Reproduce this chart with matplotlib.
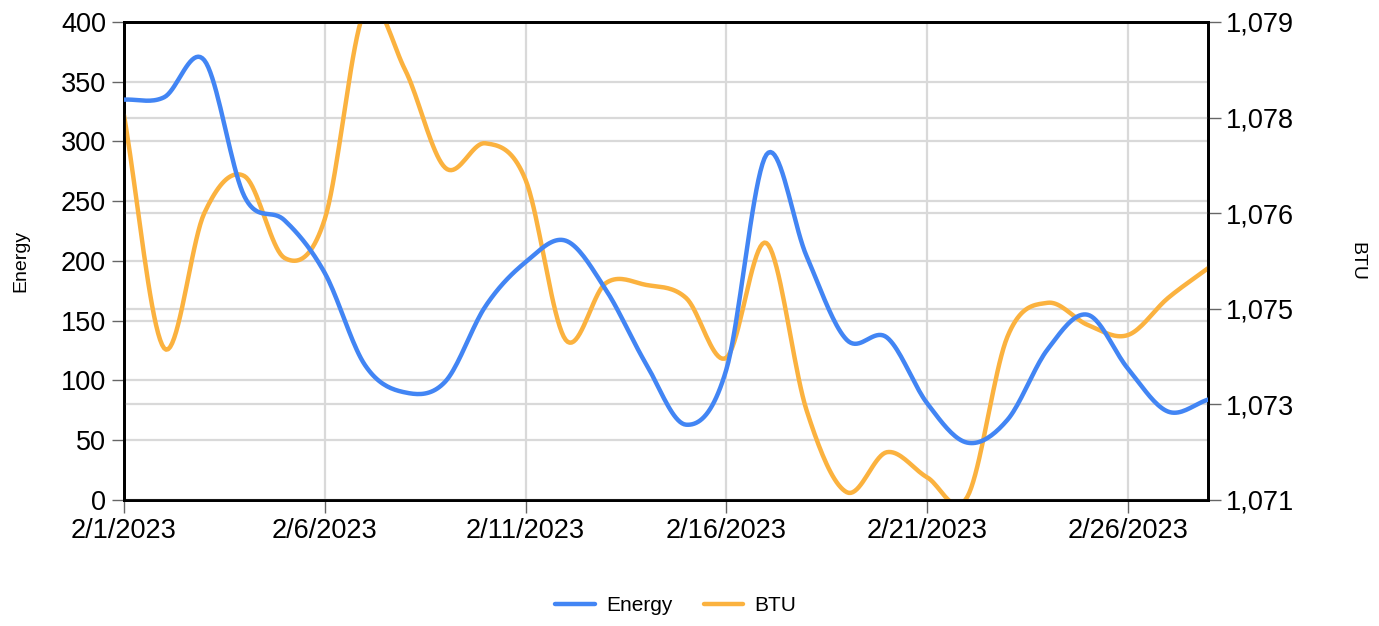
import numpy as np
import pandas as pd
import matplotlib
matplotlib.use("Agg")
import matplotlib.pyplot as plt
import matplotlib.dates as mdates
from matplotlib.ticker import FuncFormatter

plt.rcParams["font.family"] = ["Liberation Sans", "DejaVu Sans"]

# daily readings, February 2023
dates = pd.date_range("2023-02-01", "2023-02-28", freq="D")
energy = [335, 337, 368, 254, 234, 190, 113, 90, 99, 162,
          199, 217, 176, 114, 63, 109, 289, 204, 134, 136,
          81, 48, 67, 126, 155, 110, 74, 84]
btu = [1077.84, 1073.94, 1076.2, 1076.82, 1075.45, 1076.1, 1079.6, 1078.6,
       1076.96, 1077.37, 1076.76, 1074.08, 1075.03, 1075.0, 1074.78, 1073.78,
       1075.7, 1072.9, 1071.53, 1072.2, 1071.78, 1071.45, 1074.13, 1074.7,
       1074.33, 1074.16, 1074.78, 1075.28]

BLUE = "#4285f4"
ORANGE = "#fbb23f"
GRID = "#d9d9d9"


def smooth(x, y, n=20):
    # catmull-rom curve through the points (like the "function" curve type)
    x = np.asarray(x, float)
    y = np.asarray(y, float)
    m = np.zeros_like(y)
    m[1:-1] = (y[2:] - y[:-2]) / (x[2:] - x[:-2])
    m[0] = (y[1] - y[0]) / (x[1] - x[0])
    m[-1] = (y[-1] - y[-2]) / (x[-1] - x[-2])
    xs, ys = [], []
    for i in range(len(x) - 1):
        h = x[i + 1] - x[i]
        t = np.linspace(0, 1, n, endpoint=False)
        h00 = 2 * t**3 - 3 * t**2 + 1
        h10 = t**3 - 2 * t**2 + t
        h01 = -2 * t**3 + 3 * t**2
        h11 = t**3 - t**2
        xs.append(x[i] + t * h)
        ys.append(h00 * y[i] + h10 * h * m[i] + h01 * y[i + 1] + h11 * h * m[i + 1])
    xs.append([x[-1]])
    ys.append([y[-1]])
    return np.concatenate(xs), np.concatenate(ys)


xnum = mdates.date2num(dates)

fig = plt.figure(figsize=(13.79, 6.26), dpi=100)
ax = fig.add_axes([0.0899, 0.2013, 0.7862, 0.7636])
ax2 = ax.twinx()

ax.set_xlim(xnum[0], xnum[-1])
ax.set_ylim(0, 400)
ax2.set_ylim(1071.4, 1079.4)

# gridlines for both value axes plus every 5th day
ax.set_yticks(np.arange(0, 401, 50))
right_ticks = np.linspace(1071.4, 1079.4, 6)
ax2.set_yticks(right_ticks)
for v in np.arange(0, 401, 50):
    ax.axhline(v, color=GRID, lw=1.6, zorder=0)
for v in right_ticks:
    ax2.axhline(v, color=GRID, lw=1.6, zorder=0)
tick_dates = dates[::5]
ax.set_xticks(mdates.date2num(tick_dates))
ax.set_xticklabels([f"{d.month}/{d.day}/{d.year}" for d in tick_dates])
for xv in mdates.date2num(tick_dates)[1:]:
    ax.axvline(xv, color=GRID, lw=1.6, zorder=0)

ex, ey = smooth(xnum, energy)
l1, = ax2.plot(ex, ey, color=BLUE, lw=3.2, zorder=3,
               transform=ax.transData, solid_capstyle="round", label="Energy")
bx, by = smooth(xnum, btu)
l2, = ax2.plot(bx, by, color=ORANGE, lw=3.2, zorder=2,
               solid_capstyle="round", label="BTU")

ax2.yaxis.set_major_formatter(FuncFormatter(lambda v, p: f"{v:,.0f}"))

for a in (ax, ax2):
    for s in a.spines.values():
        s.set_color("black")
        s.set_linewidth(2)
    a.tick_params(axis="both", labelsize=19.5, color="#666666", length=9, width=1,
                  pad=4)

ax.set_ylabel("Energy", fontsize=14)
ax.yaxis.set_label_coords(-0.0876, 0.5)
ax2.set_ylabel("BTU", fontsize=14, rotation=-90, va="center")
ax2.yaxis.set_label_coords(1.137, 0.5)

fig.legend(handles=[l1, l2], loc="center", bbox_to_anchor=(0.49, 0.032),
           ncol=2, frameon=False, fontsize=15, handlelength=1.9,
           columnspacing=1.5, handletextpad=0.55)

fig.savefig("out.png", dpi=100)
